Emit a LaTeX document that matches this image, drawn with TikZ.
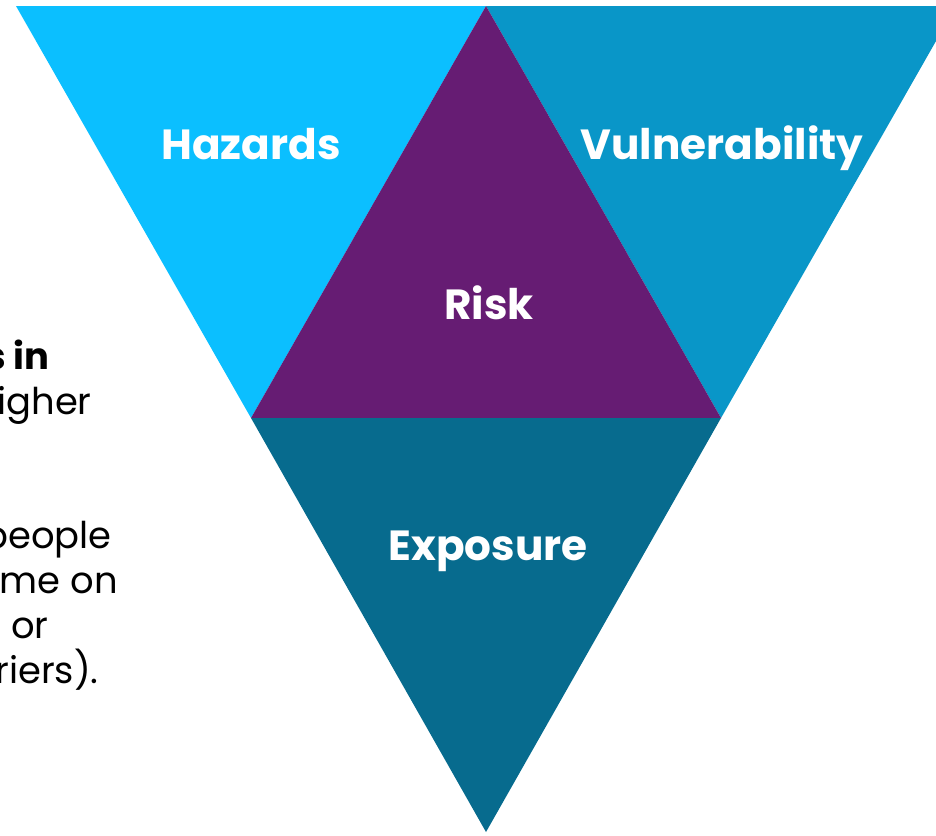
\documentclass[tikz,border=0pt]{standalone}
\usepackage{fontspec}
\setmainfont{Poppins}
\usetikzlibrary{positioning}
\definecolor{hazardblue}{RGB}{11,191,255}
\definecolor{vulnblue}{RGB}{9,150,200}
\definecolor{riskpurple}{RGB}{102,28,115}
\definecolor{exposeteal}{RGB}{7,107,142}

\begin{document}
\begin{tikzpicture}[
            x=0.02cm, y=-0.02cm,
            label/.style={anchor=base, inner sep=0pt, text=white, font=\fontsize{24}{28}\selectfont\bfseries},
            bodytext/.style={anchor=base east, inner sep=0pt, font=\fontsize{21}{26}\selectfont}
        ]
        \useasboundingbox (0, 0) rectangle (936, 835);
        \clip (0, 0) rectangle (936, 835);

        % corners of the big triangle
        \coordinate (topL) at (16, 6);
        \coordinate (topM) at (486, 6);
        \coordinate (topR) at (956, 6);
        \coordinate (midL) at (251, 418);
        \coordinate (midR) at (721, 418);
        \coordinate (bot) at (486, 832);

        \fill[hazardblue] (topL) -- (topM) -- (midL) -- cycle;
        \fill[vulnblue] (topM) -- (topR) -- (midR) -- cycle;
        \fill[riskpurple] (topM) -- (midR) -- (midL) -- cycle;
        \fill[exposeteal] (midL) -- (midR) -- (bot) -- cycle;

        \node[label] (hazards) at (251, 159) {Hazards};
        \node[label] (vulnerability) at (722, 159) {Vulnerability};
        \node[label] (risk) at (489, 319) {Risk};
        \node[label] (exposure) at (488, 560) {Exposure};

        % text cut off at the left edge
        \node[bodytext, font=\fontsize{21}{26}\selectfont\bfseries] (lineA) at (50, 369) {s in};
        \node[bodytext] (lineB) at (92, 414) {igher};
        \node[bodytext] (lineC) at (112, 548) {people};
        \node[bodytext] (lineD) at (118, 593) {me on};
        \node[bodytext] (lineE) at (49, 638) {or};
        \node[bodytext] (lineF) at (99, 683) {riers).};
    \end{tikzpicture}
\end{document}
